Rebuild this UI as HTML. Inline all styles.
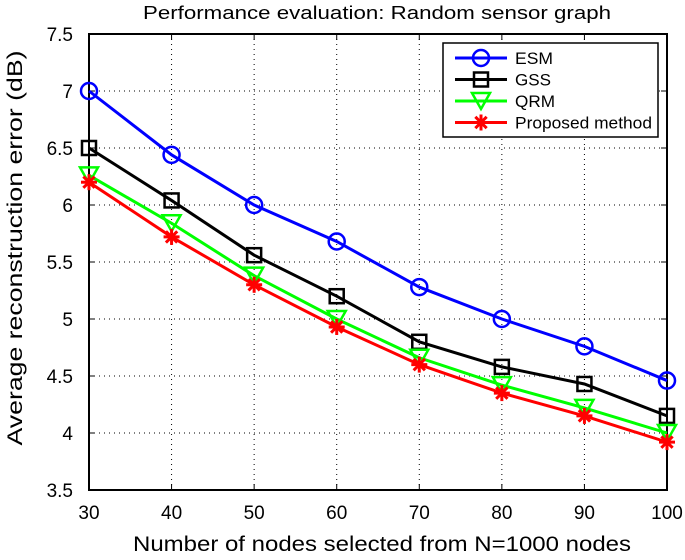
<!DOCTYPE html>
<html><head><meta charset="utf-8"><style>
body{margin:0;background:#fff}
svg{font-family:"Liberation Sans",sans-serif}
</style></head><body>
<svg id="chart" width="685" height="555">
<text x="377" y="19" font-size="18" text-anchor="middle" textLength="468" lengthAdjust="spacingAndGlyphs">Performance evaluation: Random sensor graph</text>
<g id="grid"></g>
<g id="axes"></g>
<g id="series"></g>
<text x="382" y="551" font-size="21" text-anchor="middle" textLength="498" lengthAdjust="spacingAndGlyphs">Number of nodes selected from N=1000 nodes</text>
<text transform="translate(22,248) rotate(-90)" font-size="21" text-anchor="middle" textLength="395" lengthAdjust="spacingAndGlyphs">Average reconstruction error (dB)</text>
<g id="legend"></g>
</svg>
<script>
const categories=[30,40,50,60,70,80,90,100];
const esm=[7.0,6.44,6.0,5.68,5.28,5.0,4.76,4.46];
const gss=[6.5,6.04,5.56,5.2,4.8,4.58,4.43,4.15];
const qrm=[6.26,5.84,5.38,5.0,4.66,4.42,4.22,4.0];
const proposed=[6.2,5.72,5.3,4.93,4.6,4.35,4.15,3.92];
const yTicks=[3.5,4,4.5,5,5.5,6,6.5,7,7.5];
const yTickLabels=["3.5","4","4.5","5","5.5","6","6.5","7","7.5"];
const xTickLabels=["30","40","50","60","70","80","90","100"];
const seriesNames=["ESM","GSS","QRM","Proposed method"];

const L=89,R=667,T=34,B=490;
const xs=v=>L+(v-30)/70*(R-L);
const ys=v=>B-(v-3.5)/4*(B-T);
const NS="http://www.w3.org/2000/svg";
function mk(tag,attrs,parent){const e=document.createElementNS(NS,tag);for(const k in attrs)e.setAttribute(k,attrs[k]);parent.appendChild(e);return e;}
const grid=document.getElementById('grid'),axes=document.getElementById('axes'),ser=document.getElementById('series'),leg=document.getElementById('legend');

categories.forEach((c,i)=>{
  const x=xs(c);
  if(i>0&&i<categories.length-1){const g=mk('line',{x1:x,x2:x,y1:T,y2:B,stroke:'#000','stroke-width':1,'stroke-dasharray':'1,4'},grid);
  
  }
  const t=mk('text',{x:x,y:B+29,'font-size':19,'text-anchor':'middle'},axes);t.textContent=xTickLabels[i];
  
  
  mk('line',{x1:x,x2:x,y1:B,y2:B-6,stroke:'#000'},axes);
  mk('line',{x1:x,x2:x,y1:T,y2:T+6,stroke:'#000'},axes);
});
yTicks.forEach((v,i)=>{
  const y=ys(v);
  if(i>0&&i<yTicks.length-1){const g=mk('line',{x1:L,x2:R,y1:y,y2:y,stroke:'#000','stroke-width':1,'stroke-dasharray':'1,4'},grid);
  
  }
  const t=mk('text',{x:L-16,y:y+7,'font-size':19,'text-anchor':'end'},axes);t.textContent=yTickLabels[i];
  
  
  mk('line',{x1:L,x2:L+6,y1:y,y2:y,stroke:'#000'},axes);
  mk('line',{x1:R,x2:R-6,y1:y,y2:y,stroke:'#000'},axes);
});
const frame=mk('rect',{x:L,y:T,width:R-L,height:B-T,fill:'none',stroke:'#000','stroke-width':2},axes);



function marker(type,x,y,color,parent){
  if(type==='o')mk('circle',{cx:x,cy:y,r:8,fill:'none',stroke:color,'stroke-width':2.5},parent);
  else if(type==='s')mk('rect',{x:x-7,y:y-7,width:14,height:14,fill:'none',stroke:color,'stroke-width':2.5},parent);
  else if(type==='v')mk('polygon',{points:`${x-9},${y-8} ${x+9},${y-8} ${x},${y+8}`,fill:'none',stroke:color,'stroke-width':2.5},parent);
  else{for(let a=0;a<4;a++){const an=a*Math.PI/4;mk('line',{x1:x-8*Math.cos(an),y1:y-8*Math.sin(an),x2:x+8*Math.cos(an),y2:y+8*Math.sin(an),stroke:color,'stroke-width':3},parent);}}
}
const defs=[[esm,'#0000ff','o','series-esm'],[gss,'#000','s','series-gss'],[qrm,'#00ff00','v','series-qrm'],[proposed,'#ff0000','*','series-proposed']];
const legendLens=[38,36,40,137];
defs.forEach(([d,c,m,n],si)=>{
  const g=mk('g',{},ser);
  
  
  mk('polyline',{points:d.map((v,i)=>xs(categories[i])+','+ys(v)).join(' '),fill:'none',stroke:c,'stroke-width':3},g);
  d.forEach((v,i)=>marker(m,xs(categories[i]),ys(v),c,g));
  const ly=58+si*21.5;
  const le=mk('g',{},leg);
  
  
  mk('line',{x1:455,x2:507,y1:ly,y2:ly,stroke:c,'stroke-width':3},le);
  marker(m,481,ly,c,le);
  const t=mk('text',{x:515,y:ly+6,'font-size':16.5,textLength:legendLens[si],lengthAdjust:'spacingAndGlyphs'},le);t.textContent=seriesNames[si];
});
const lb=mk('rect',{x:443,y:43,width:215,height:94,fill:'none',stroke:'#000','stroke-width':1.5},leg);
leg.insertBefore(lb,leg.firstChild);
leg.insertBefore(mk('rect',{x:443,y:43,width:215,height:94,fill:'#fff'},leg),leg.firstChild);


</script>
</body></html>
